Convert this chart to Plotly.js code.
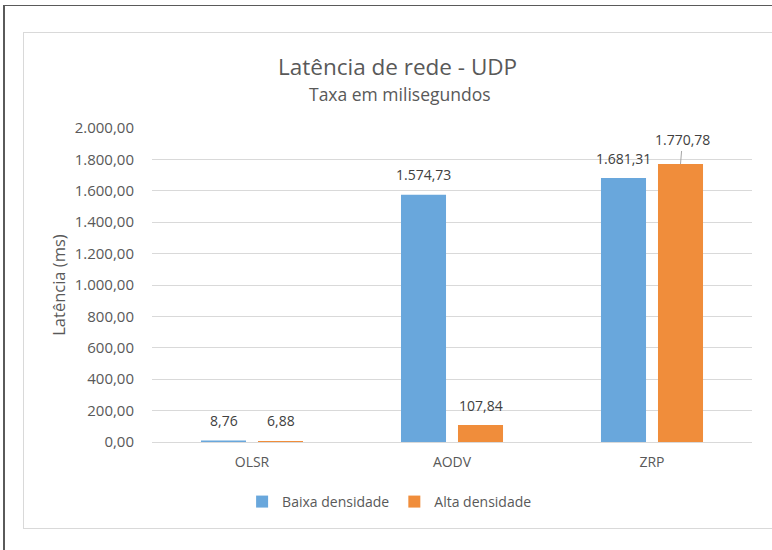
<!DOCTYPE html>
<html>
<head>
<meta charset="utf-8">
<script src="https://cdn.plot.ly/plotly-3.0.1.min.js"></script>
<style>
  html, body { margin: 0; padding: 0; background: #ffffff; }
  #wrap { position: relative; width: 772px; height: 550px; overflow: hidden; }
  #outerLeft { position: absolute; left: 3px; top: 5px; width: 2px; height: 545px; background: #5a5a5a; }
  #outerTop { position: absolute; left: 3px; top: 5px; width: 769px; height: 1px; background: #5a5a5a; }
  #inner { position: absolute; left: 23px; top: 32px; width: 760px; height: 497px; border: 1px solid #d9d9d9; box-sizing: border-box; }
  #chart { position: absolute; left: 0; top: 0; width: 772px; height: 550px; }
</style>
</head>
<body>
<div id="wrap">
  <div id="outerLeft"></div>
  <div id="outerTop"></div>
  <div id="inner"></div>
  <div id="chart"></div>
</div>
<script>
// ---- data ----
const categories = ["OLSR", "AODV", "ZRP"];
const baixaDensidade = [8.76, 1574.73, 1681.31];
const altaDensidade = [6.88, 107.84, 1770.78];
const seriesNames = ["Baixa densidade", "Alta densidade"];
const yTickValues = [0, 200, 400, 600, 800, 1000, 1200, 1400, 1600, 1800, 2000];
const chartTitle = "Latência de rede - UDP";
const chartSubtitle = "Taxa em milisegundos";
const yTitle = "Latência (ms)";

// ---- helpers ----
function fmtBR(v) {
  const parts = v.toFixed(2).split(".");
  parts[0] = parts[0].replace(/\B(?=(\d{3})+(?!\d))/g, ".");
  return parts[0] + "," + parts[1];
}

const blue = "#69A7DC";
const orange = "#F08D3B";
const textGray = "#595959";
const labelGray = "#404040";
const fontFam = "Open Sans, Noto Sans, sans-serif";

const traces = [
  { type: "bar", name: seriesNames[0], x: categories, y: baixaDensidade,
    marker: { color: blue }, hoverinfo: "none" },
  { type: "bar", name: seriesNames[1], x: categories, y: altaDensidade,
    marker: { color: orange }, hoverinfo: "none" }
];

// data labels as annotations, built from the data arrays
const annotations = [];
const seriesVals = [baixaDensidade, altaDensidade];
const barOffset = 28.5;
seriesVals.forEach((vals, si) => {
  vals.forEach((v, ci) => {
    const other = seriesVals[1 - si][ci];
    // lift the label of the taller bar when neighbouring labels would collide
    const collide = Math.abs(v - other) < 150 && v > other && v > 1000;
    annotations.push({
      x: categories[ci], y: v, xref: "x", yref: "y",
      xshift: (si === 0 ? -barOffset : barOffset),
      text: fmtBR(v),
      showarrow: collide,
      ax: collide ? 2 : 0, ay: collide ? -24 : 0,
      arrowhead: 0, arrowwidth: 1, arrowcolor: "#a6a6a6", standoff: 0,
      yshift: collide ? 0 : 20,
      yanchor: collide ? "auto" : "middle",
      font: { family: fontFam, size: 14, color: labelGray }
    });
  });
});

// subtitle
annotations.push({
  text: chartSubtitle, showarrow: false,
  xref: "paper", yref: "paper", x: 0.4125, y: 1.108,
  xanchor: "center", yanchor: "middle",
  font: { family: fontFam, size: 17.5, color: textGray }
});

const layout = {
  width: 772, height: 550,
  paper_bgcolor: "rgba(0,0,0,0)",
  plot_bgcolor: "rgba(0,0,0,0)",
  margin: { l: 152, r: 20, t: 128, b: 108, pad: 0 },
  separators: ",.",
  font: { family: fontFam, size: 14, color: textGray },
  title: {
    text: chartTitle,
    font: { family: fontFam, size: 22.5, color: textGray },
    x: 0.515, xanchor: "center", xref: "container",
    y: 0.878, yanchor: "middle", yref: "container"
  },
  barmode: "group",
  bargap: 0.43,
  bargroupgap: 0.21,
  xaxis: {
    type: "category",
    showgrid: false, zeroline: false,
    showline: false,
    ticks: "", ticklabelstandoff: 10,
    tickfont: { family: fontFam, size: 14, color: textGray },
    automargin: false
  },
  yaxis: {
    range: [0, 2000],
    tickvals: yTickValues,
    tickformat: ",.2f",
    showgrid: true, gridcolor: "#d9d9d9", gridwidth: 1,
    zeroline: true, zerolinecolor: "#d9d9d9", zerolinewidth: 1,
    showline: false, ticks: "",
    ticklabelstandoff: 17,
    tickfont: { family: fontFam, size: 15, color: textGray },
    title: { text: yTitle, font: { family: fontFam, size: 16.5, color: textGray }, standoff: 4 },
    automargin: false
  },
  legend: {
    orientation: "h",
    x: 0.396, xanchor: "center",
    y: -0.191, yanchor: "middle",
    font: { family: fontFam, size: 14, color: textGray },
    bgcolor: "rgba(0,0,0,0)"
  },
  annotations: annotations,
  showlegend: true
};

Plotly.newPlot("chart", traces, layout, { displayModeBar: false, staticPlot: true });
</script>
</body>
</html>
